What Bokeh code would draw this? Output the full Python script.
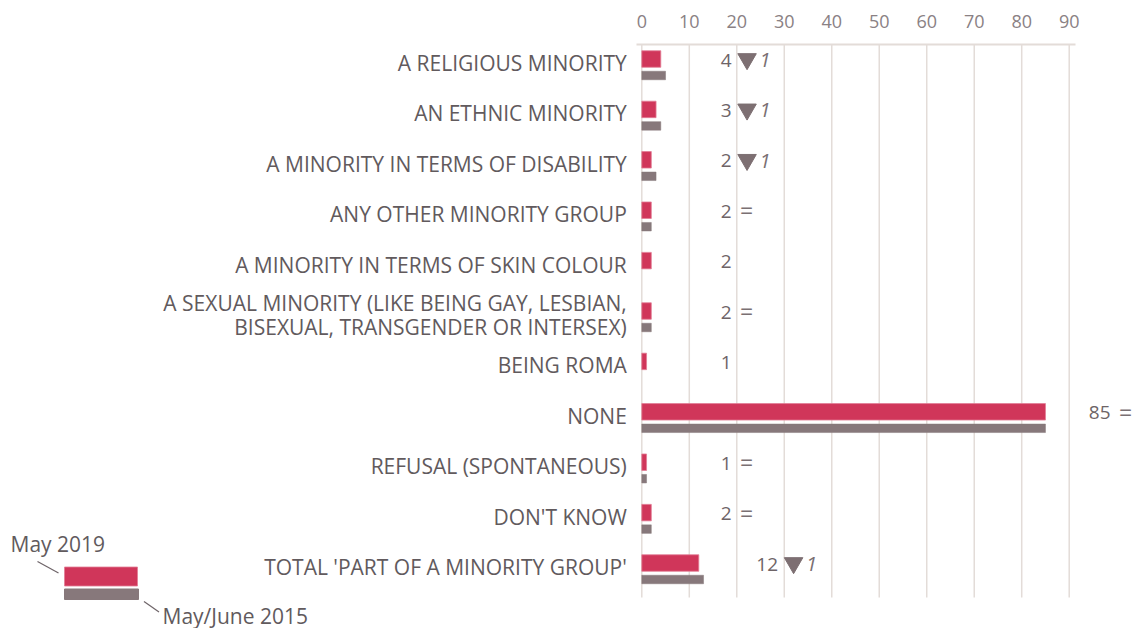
import numpy as np
from bokeh.plotting import figure
from bokeh.models import Range1d, FixedTicker, Label
from bokeh.core.properties import value
from bokeh.embed import file_html
from bokeh.resources import INLINE

# ---------------- data ----------------
title_text = "(% - EU)"
categories = [
    "A RELIGIOUS MINORITY",
    "AN ETHNIC MINORITY",
    "A MINORITY IN TERMS OF DISABILITY",
    "ANY OTHER MINORITY GROUP",
    "A MINORITY IN TERMS OF SKIN COLOUR",
    "A SEXUAL MINORITY (LIKE BEING GAY, LESBIAN,\nBISEXUAL, TRANSGENDER OR INTERSEX)",
    "BEING ROMA",
    "NONE",
    "REFUSAL (SPONTANEOUS)",
    "DON'T KNOW",
    "TOTAL 'PART OF A MINORITY GROUP'",
]
may_2019 = [4, 3, 2, 2, 2, 2, 1, 85, 1, 2, 12]
may_june_2015 = [5, 4, 3, 2, None, 2, None, 85, 1, 2, 13]
trend = ["down", "down", "down", "eq", None, "eq", None, "eq", "eq", "eq", "down"]
delta = [1, 1, 1, None, None, None, None, None, None, None, 1]
x_ticks = [0, 10, 20, 30, 40, 50, 60, 70, 80, 90]
series_names = ["May 2019", "May/June 2015"]

# ---------------- style ----------------
RED = "#d0365a"
GREY = "#87787b"
TEXT = "#615a5d"
TICK = "#8a8184"
GRID = "#e3dcd8"
FONT = "Open Sans"

PPU = 4.749    # pixels per x unit
RPX = 50.4     # pixels per row
X0 = 641.3     # pixel of x = 0
Y0 = 62.5      # pixel of row 0
W, H = 1132, 628

rows = np.arange(len(categories), dtype=float)
v19 = np.array(may_2019, dtype=float)
v15 = np.array([np.nan if v is None else v for v in may_june_2015], dtype=float)


def pg(px, py):
    """canvas pixel -> data coords (for decoration only)"""
    return (px - X0) / PPU, (py - Y0) / RPX


x_left = -X0 / PPU
x_right = (W - X0) / PPU
y_top = (44 - Y0) / RPX
y_bot = (H - Y0) / RPX

p = figure(width=W, height=H, output_backend="svg", toolbar_location=None,
           x_range=Range1d(x_left, x_right), y_range=Range1d(y_bot, y_top),
           x_axis_location="above", y_axis_location=None,
           min_border_left=0, min_border_right=0, min_border_top=44,
           min_border_bottom=0, outline_line_color=None,
           background_fill_color="white", border_fill_color="white")
p.xgrid.visible = False
p.ygrid.visible = False

ax = p.xaxis[0]
ax.ticker = FixedTicker(ticks=x_ticks)
ax.bounds = (-1.1, 91.3)
ax.axis_line_color = GRID
ax.axis_line_width = 2
ax.major_tick_line_color = None
ax.minor_tick_line_color = None
ax.major_tick_out = 0
ax.major_tick_in = 0
ax.major_label_standoff = 17
ax.major_label_text_font = FONT
ax.major_label_text_font_size = "18px"
ax.major_label_text_color = TICK

# title at the very top (fully inside the canvas)
tx, ty = pg(67, 2)
p.add_layout(Label(x=tx, y=ty, text=title_text, text_font=FONT, text_font_size="17px",
                   text_font_style="bold", text_color="#6b6165",
                   text_baseline="top", text_align="left"))

# vertical grid lines
grid_bottom = (597 - Y0) / RPX
p.segment(x0=x_ticks, x1=x_ticks, y0=[y_top] * len(x_ticks), y1=[grid_bottom] * len(x_ticks),
          line_color=GRID, line_width=1.5)

# bars
p.hbar(y=rows - 0.079, left=0, right=v19, height=0.327, fill_color=RED,
       line_color="#e27d96", line_width=0.8)
p.hbar(y=rows + 0.248, left=0, right=v15, height=0.169, fill_color=GREY,
       line_color=GREY, line_width=0.5)

# category labels
p.text(x=[0] * len(rows), y=rows, text=categories, x_offset=-15,
       text_align="right", text_baseline="middle", text_font=value(FONT),
       text_font_size="21px", text_color=TEXT, text_line_height=0.88)

# value labels
lbl_x = np.where(v19 < 10, 18.9, np.where(v19 > 50, v19 + 13.7, v19 + 16.7))
p.text(x=lbl_x, y=rows, text=[str(int(v)) for v in may_2019], y_offset=-3,
       text_align="right", text_baseline="middle", text_font=value(FONT),
       text_font_size="19px", text_color="#6e6467")

down = [i for i, t in enumerate(trend) if t == "down"]
eq = [i for i, t in enumerate(trend) if t == "eq"]

p.scatter(x=lbl_x[down] + 15.5 / PPU, y=rows[down] - 4 / RPX, marker="inverted_triangle",
          size=18.5, fill_color="#7d6f72", line_color="#7d6f72")
p.text(x=lbl_x[down], y=rows[down], text=[str(delta[i]) for i in down], x_offset=28,
       y_offset=-3, text_align="left", text_baseline="middle", text_font=value(FONT),
       text_font_style="italic", text_font_size="20px", text_color="#7a7073")
p.text(x=lbl_x[eq], y=rows[eq], text=["="] * len(eq), x_offset=15, y_offset=-4,
       text_align="center", text_baseline="middle", text_font=value(FONT),
       text_font_size="23px", text_color="#7a7073")

# legend (decoration)
lx0, ly0 = pg(64, 566.5)
lx1, ly1 = pg(137, 585.5)
p.quad(left=[lx0], right=[lx1], top=[ly0], bottom=[ly1], fill_color=RED,
       line_color="#e27d96", line_width=0.8)
gx0, gy0 = pg(64, 588.5)
gx1, gy1 = pg(138, 599)
p.quad(left=[gx0], right=[gx1], top=[gy0], bottom=[gy1], fill_color=GREY, line_color=GREY)
a0 = pg(37, 561); a1 = pg(58, 572.5)
b0 = pg(143.5, 601); b1 = pg(158.5, 611.5)
p.segment(x0=[a0[0], b0[0]], y0=[a0[1], b0[1]], x1=[a1[0], b1[0]], y1=[a1[1], b1[1]],
          line_color="#6e6468", line_width=1.2)
t0 = pg(10, 543)
t1 = pg(162, 615)
p.text(x=[t0[0], t1[0]], y=[t0[1], t1[1]], text=series_names, text_align="left",
       text_baseline="middle", text_font=value(FONT), text_font_size="21px",
       text_color=TEXT)

open("out.html", "w").write(file_html(p, INLINE))
